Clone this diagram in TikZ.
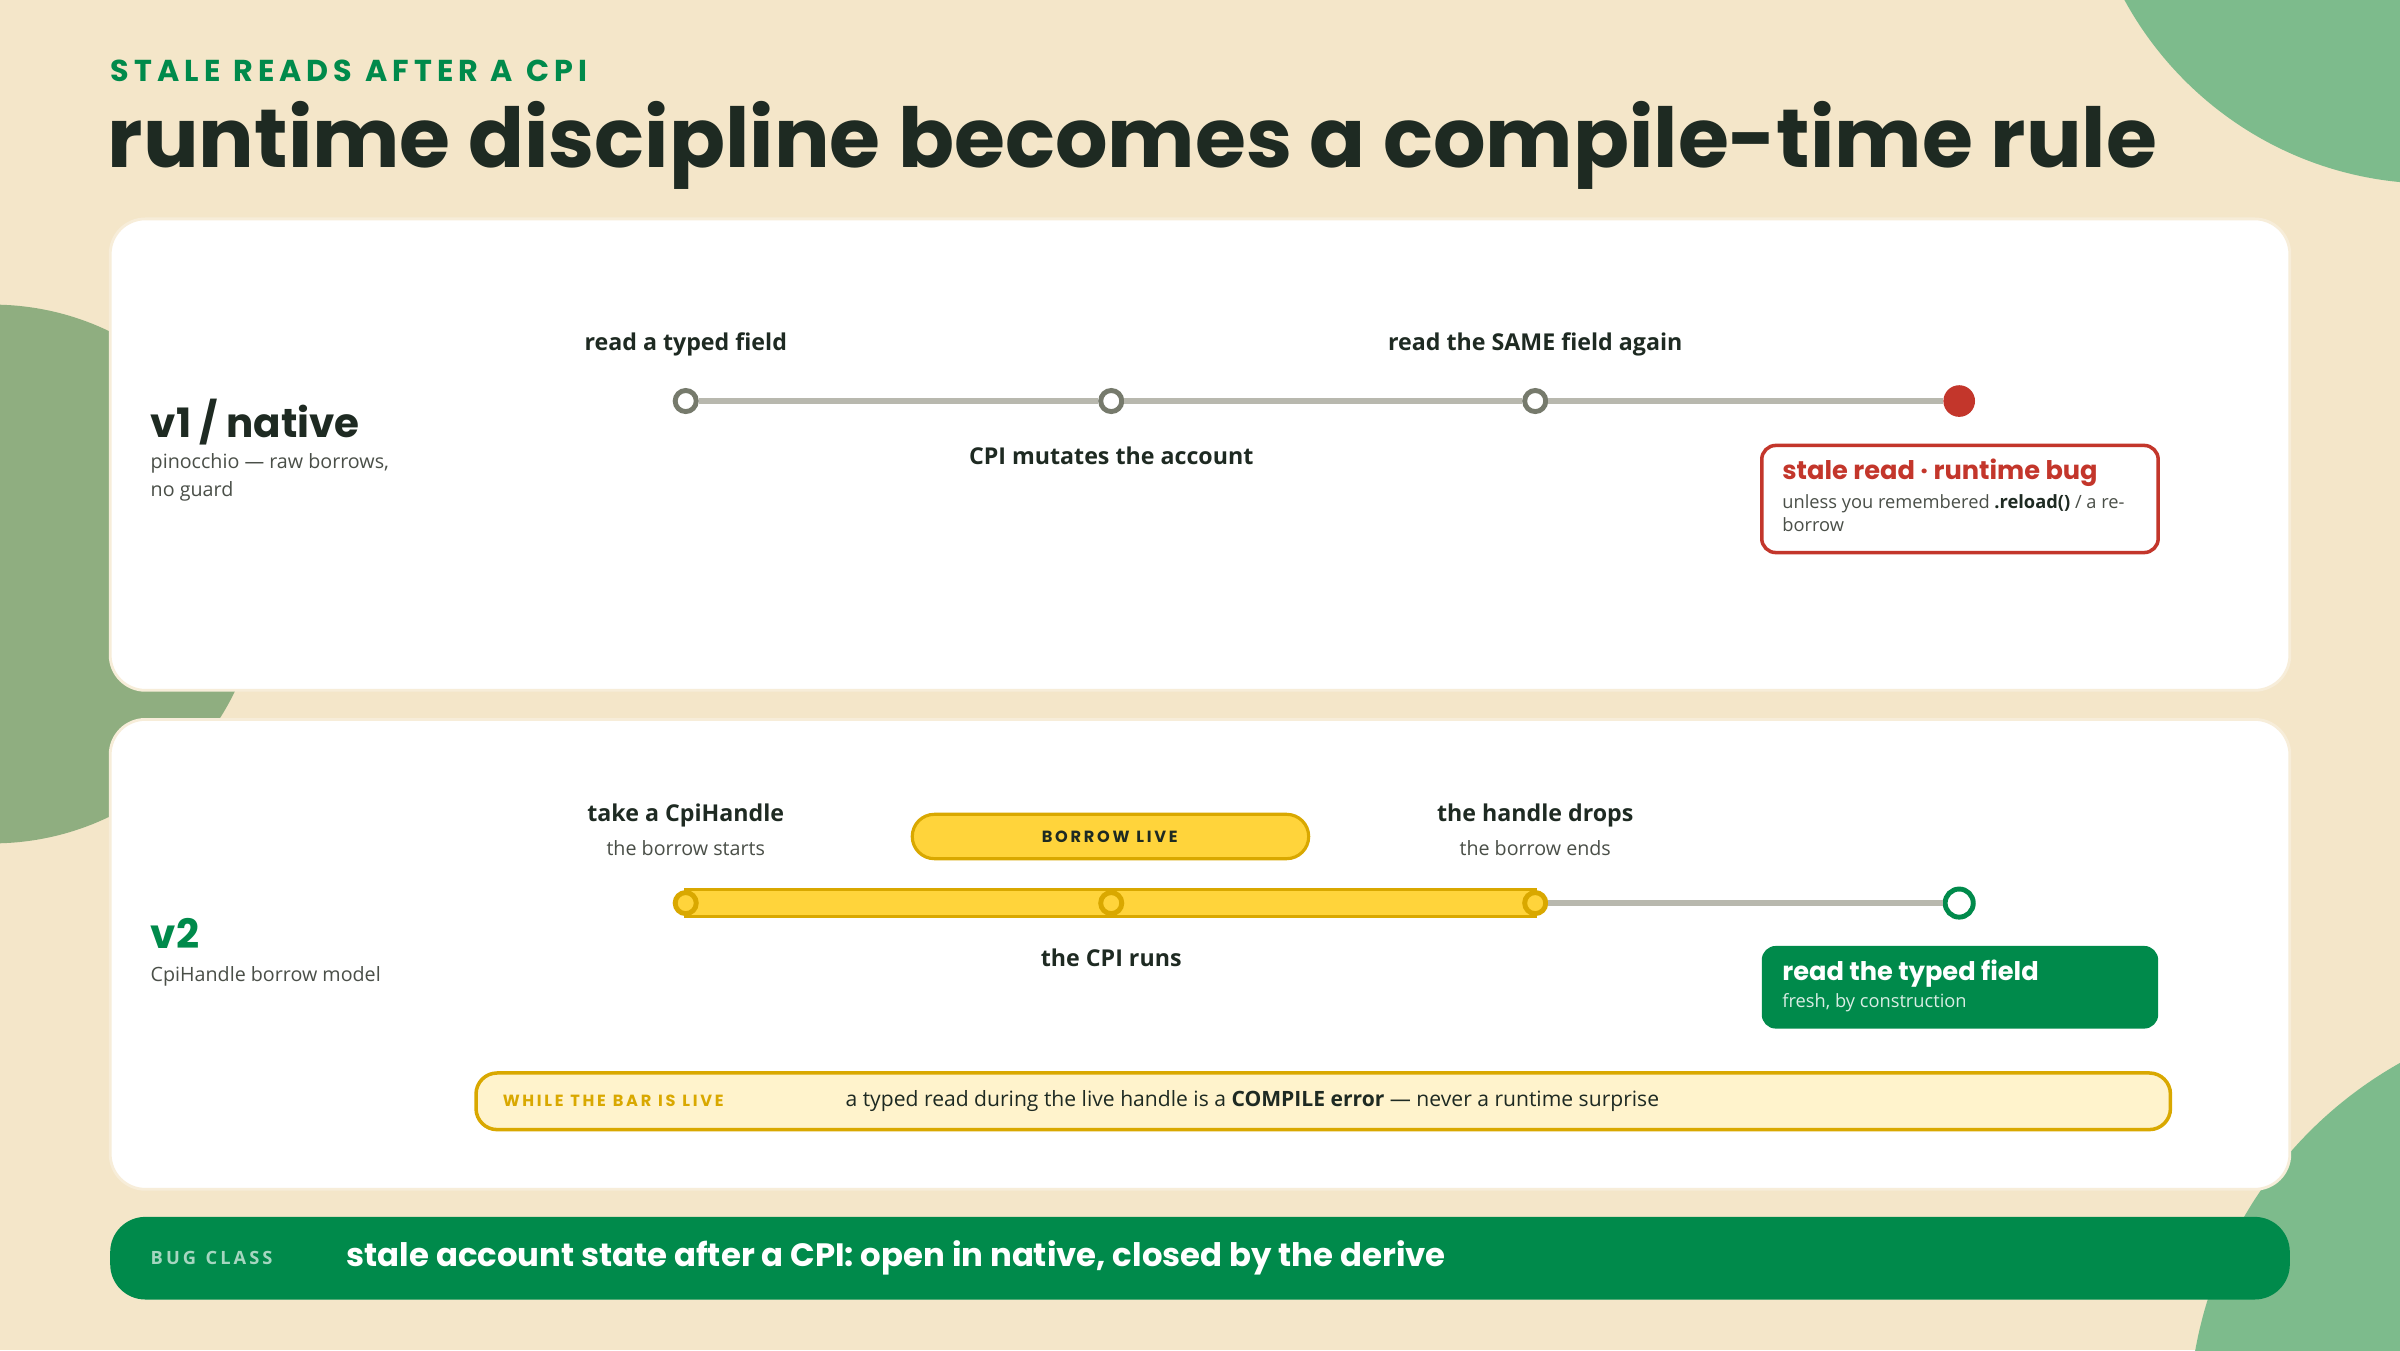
\documentclass[tikz,border=0pt]{standalone}
\usepackage{fontspec}
\setmainfont{Open Sans}
\newfontfamily\headfont{Poppins}
\usetikzlibrary{positioning}

\definecolor{paper}{HTML}{F4E6C9}
\definecolor{blobA}{HTML}{7DBB8C}
\definecolor{blobB}{HTML}{8FAE80}
\definecolor{leaf}{HTML}{008A4B}
\definecolor{ink}{HTML}{1E2A22}
\definecolor{rail}{HTML}{B8B8AE}
\definecolor{dot}{HTML}{767A6C}
\definecolor{alarm}{HTML}{C3362B}
\definecolor{gold}{HTML}{FFD43B}
\definecolor{goldline}{HTML}{D9A800}
\definecolor{cream}{HTML}{FFF3CC}
\definecolor{muted}{HTML}{4A4F48}

\tikzset{
  card/.style={draw=paper!70!white, line width=0.8pt, fill=white, rounded corners=10pt},
  stop/.style={circle, draw=dot, line width=1.4pt, fill=white, minimum size=6pt, inner sep=0pt},
  live/.style={circle, draw=goldline, line width=1.4pt, fill=gold, minimum size=6pt, inner sep=0pt},
  caption/.style={font=\fontsize{6.6}{8}\selectfont\bfseries, text=ink},
  hint/.style={font=\fontsize{5.6}{7}\selectfont, text=muted},
  rowtitle/.style={font=\headfont\fontsize{11.5}{13}\selectfont\bfseries, anchor=west, inner sep=0pt},
  tiny/.style={font=\headfont\fontsize{4.6}{6}\selectfont\bfseries, inner sep=0pt}
}

\begin{document}
\begin{tikzpicture}[x=0.015306cm, y=-0.015306cm]
\fill[paper] (0,0) rectangle (1568,882);
\useasboundingbox (0,0) rectangle (1568,882);
% blobs
\begin{scope}
\clip (0,0) rectangle (1568,882);
\fill[blobA] (1590,-110) circle (230);
\fill[blobB] (-5,375) circle (176);
\fill[blobA] (1700,930) circle (270);
\end{scope}

% heading
\node[anchor=west, inner sep=0pt, text=leaf, font=\headfont\fontsize{8.6}{10}\selectfont\bfseries] (eyebrow) at (72,46) {S\,T\,A\,L\,E\ \ R\,E\,A\,D\,S\ \ A\,F\,T\,E\,R\ \ A\ \ C\,P\,I};
\node[anchor=west, inner sep=0pt, text=ink, font=\headfont\fontsize{23.5}{26}\selectfont\bfseries] (title) at (70,95) {runtime discipline becomes a compile-time rule};

% cards
\draw[card] (72,143) rectangle (1496,451);
\draw[card] (72,470) rectangle (1496,777);

% row v1
\node[rowtitle, text=ink] (v1) at (98,276) {v1 / native};
\node[hint, anchor=north west, inner sep=0pt, align=left] (v1sub) at (98,296) {pinocchio — raw borrows,\\[1pt]no guard};

\node[stop] (a1) at (448,262) {};
\node[stop] (a2) at (726,262) {};
\node[stop] (a3) at (1003,262) {};
\node[circle, fill=alarm, minimum size=9pt, inner sep=0pt] (a4) at (1280,262) {};
\draw[rail, line width=1.6pt] (a1) -- (a2) -- (a3) -- (a4);
\node[caption] at (448,225) {read a typed field};
\node[caption] at (1003,225) {read the SAME field again};
\node[caption] at (726,298) {CPI mutates the account};

\draw[alarm, line width=1pt, fill=white, rounded corners=4pt] (1151,291) rectangle (1410,361);
\node[anchor=west, inner sep=0pt, text=alarm, font=\headfont\fontsize{7.3}{9}\selectfont\bfseries] (bug) at (1164,309) {stale read · runtime bug};
\node[hint, anchor=north west, inner sep=0pt, align=left, font=\fontsize{5.2}{6.4}\selectfont] at (1164,323) {unless you remembered \textbf{\textcolor{ink}{.reload()}} / a re-\\borrow};

% row v2
\node[rowtitle, text=leaf] (v2) at (98,610) {v2};
\node[hint, anchor=west, inner sep=0pt] (v2sub) at (98,638) {CpiHandle borrow model};

\draw[goldline, line width=0.9pt, fill=gold] (448,581) rectangle (1003,599);
\node[live] (b1) at (448,590) {};
\node[live] (b2) at (726,590) {};
\node[live] (b3) at (1003,590) {};
\node[circle, draw=leaf, line width=1.4pt, fill=white, minimum size=8pt, inner sep=0pt] (b4) at (1280,590) {};
\draw[rail, line width=1.6pt] (b3) -- (b4);

\node[caption] at (448,533) {take a CpiHandle};
\node[hint] at (448,554) {the borrow starts};
\node[caption] at (1003,533) {the handle drops};
\node[hint] at (1003,554) {the borrow ends};
\node[caption] at (726,626) {the CPI runs};

\draw[goldline, line width=0.9pt, fill=gold, rounded corners=6.3pt] (596,532) rectangle (855,561);
\node[tiny, text=ink] (pill) at (725,546.5) {B\,O\,R\,R\,O\,W\ \ L\,I\,V\,E};

\fill[leaf, rounded corners=4pt] (1151,618) rectangle (1410,672);
\node[anchor=west, inner sep=0pt, text=white, font=\headfont\fontsize{7.3}{9}\selectfont\bfseries] (fresh) at (1164,636) {read the typed field};
\node[anchor=west, inner sep=0pt, text=white!85!leaf, font=\fontsize{5.2}{6.4}\selectfont] at (1164,655) {fresh, by construction};

\draw[goldline, line width=1pt, fill=cream, rounded corners=6pt] (311,701) rectangle (1418,738);
\node[tiny, anchor=west, text=goldline] (while) at (328,719) {W\,H\,I\,L\,E\ \ T\,H\,E\ \ B\,A\,R\ \ I\,S\ \ L\,I\,V\,E};
\node[anchor=west, inner sep=0pt, text=ink, font=\fontsize{6.0}{8}\selectfont] at (552,719) {a typed read during the live handle is a \textbf{COMPILE error} — never a runtime surprise};

% bug class bar
\fill[leaf, rounded corners=10pt] (72,795) rectangle (1496,849);
\node[anchor=west, inner sep=0pt, text=white!65!leaf, font=\fontsize{5.2}{6}\selectfont\bfseries] (bugclass) at (98,822) {B\,U\,G\ \ C\,L\,A\,S\,S};
\node[anchor=west, inner sep=0pt, text=white, font=\headfont\fontsize{9.2}{11}\selectfont\bfseries] at (226,822) {stale account state after a CPI: open in native, closed by the derive};
\end{tikzpicture}
\end{document}
